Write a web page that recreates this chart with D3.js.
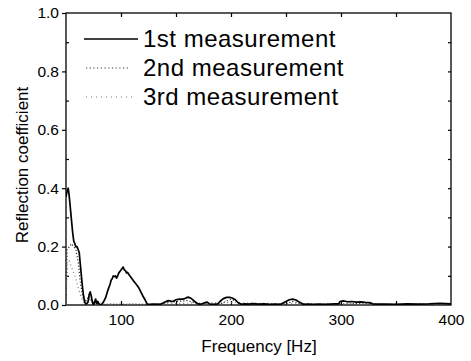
<!DOCTYPE html>
<html><head><meta charset="utf-8">
<script src="https://cdn.jsdelivr.net/npm/d3@7"></script>
<style>body{margin:0;background:#fff;} svg{display:block;font-family:"Liberation Sans",Arial,sans-serif;}</style>
</head><body>
<svg id="c" width="471" height="361"></svg>
<script>
// Data
const seriesNames = ["1st measurement", "2nd measurement", "3rd measurement"];
const freq1 = [50,51,52,53,54,55,56,57,58,59,60,61,62,63,64,65,66,67,68,69,70,71,72,73,74,75,76,77,78,79,80,81,82,84,86,88,90,91,92,93,94,95,96,97,98,99,100,101,102,103,104,105,106,107,108,110,112,114,116,118,120,122,124,126,130,135,137,140,143,147,150,153,156,158,161,164,167,170,172,175,178,181,184,188,190,193,196,199,201,204,207,210,213,216,220,225,230,235,240,245,247,250,253,256,259,262,265,267,270,275,280,285,290,295,298,299,302,306,310,314,318,322,326,329,332,340,350,360,370,380,390,395,400];
const r1    = [0.37,0.39,0.40,0.37,0.33,0.29,0.25,0.22,0.21,0.20,0.20,0.19,0.18,0.14,0.10,0.06,0.03,0.01,0.003,0.005,0.01,0.035,0.045,0.03,0.01,0.0,0.01,0.02,0.005,0.012,0.004,0.0,0.0,0.01,0.025,0.05,0.07,0.085,0.09,0.1,0.097,0.1,0.092,0.1,0.11,0.115,0.12,0.125,0.13,0.12,0.118,0.11,0.112,0.105,0.1,0.09,0.08,0.07,0.06,0.045,0.03,0.017,0.002,0.002,0.003,0.002,0.004,0.01,0.015,0.012,0.018,0.02,0.02,0.022,0.027,0.022,0.012,0.004,0.002,0.006,0.01,0.003,0.002,0.004,0.012,0.022,0.026,0.026,0.024,0.018,0.006,0.002,0.004,0.003,0.005,0.003,0.004,0.002,0.003,0.002,0.006,0.012,0.018,0.02,0.017,0.01,0.004,0.002,0.003,0.002,0.003,0.002,0.003,0.004,0.004,0.012,0.014,0.011,0.012,0.010,0.011,0.009,0.008,0.004,0.003,0.003,0.002,0.004,0.003,0.004,0.006,0.005,0.004];
const freq2 = [50,51,53,55,57,59,61,63,65,67,69,71,73,75,77,80,85,90,100,110,120,130,150,160,170,190,200,210,230,250,256,265,280,300,320,340,370,400];
const r2    = [0.0,0.19,0.2,0.21,0.2,0.19,0.15,0.08,0.03,0.01,0.02,0.03,0.015,0.005,0.01,0.003,0.002,0.003,0.002,0.003,0.002,0.002,0.012,0.015,0.005,0.003,0.02,0.004,0.002,0.003,0.012,0.003,0.002,0.003,0.006,0.002,0.003,0.002];
const freq3 = [50,51,53,55,57,59,61,63,65,67,69,71,74,78,85,100,130,160,200,250,300,350,400];
const r3    = [0.0,0.14,0.15,0.13,0.11,0.09,0.06,0.035,0.015,0.005,0.01,0.02,0.008,0.003,0.002,0.002,0.002,0.006,0.008,0.004,0.003,0.002,0.002];
const xTicks = [100,200,300,400];
const yTicks = [0.0,0.2,0.4,0.6,0.8,1.0];

const svg = d3.select("#c");
const L = 66, R = 451, T = 13, B = 305;
const x = d3.scaleLinear().domain([50,400]).range([L,R]);
const y = d3.scaleLinear().domain([0,1]).range([B,T]);

// frame
svg.append("rect").attr("x",L).attr("y",T).attr("width",R-L).attr("height",B-T)
  .attr("fill","none").attr("stroke","#000").attr("stroke-width",1.3);

// left axis: major outward
svg.append("g").attr("transform",`translate(${L},0)`)
  .call(d3.axisLeft(y).tickValues(yTicks).tickFormat(d3.format(".1f")).tickSize(4).tickPadding(3));
// left minor inward
svg.append("g").attr("transform",`translate(${L},0)`)
  .call(d3.axisRight(y).tickValues([0.1,0.3,0.5,0.7,0.9]).tickSize(3).tickFormat(""));
// right inward
svg.append("g").attr("transform",`translate(${R},0)`)
  .call(d3.axisLeft(y).tickValues(d3.range(1,10).map(d=>d/10)).tickSize(3).tickFormat(""));
// bottom
svg.append("g").attr("transform",`translate(0,${B})`)
  .call(d3.axisBottom(x).tickValues(xTicks).tickSize(0).tickPadding(9));
svg.append("g").attr("transform",`translate(0,${B})`)
  .call(d3.axisTop(x).tickValues([100,150,200,250,300,350]).tickSize(4).tickFormat(""));
// top inward
svg.append("g").attr("transform",`translate(0,${T})`)
  .call(d3.axisBottom(x).tickValues([100,150,200,250,300,350]).tickSize(4).tickFormat(""));

svg.selectAll(".domain").remove();
svg.selectAll(".tick line").attr("stroke","#000").attr("stroke-width",1.2);
svg.selectAll(".tick text").attr("font-size","15.5px").attr("fill","#000")
   .attr("font-family","'Liberation Sans',Arial,sans-serif");

// axis labels
svg.append("text").attr("x",259).attr("y",352).attr("text-anchor","middle")
  .attr("font-size","17px").text("Frequency [Hz]");
svg.append("text").attr("transform","translate(28,165) rotate(-90)").attr("text-anchor","middle")
  .attr("font-size","17px").text("Reflection coefficient");

const line = d3.line().x(d=>x(d[0])).y(d=>y(d[1]));
svg.append("clipPath").attr("id","cp").append("rect")
  .attr("x",L).attr("y",T).attr("width",R-L).attr("height",B-T);
const plotG = svg.append("g").attr("clip-path","url(#cp)");
plotG.append("path").datum(d3.zip(freq3,r3)).attr("d",line).attr("fill","none")
  .attr("stroke","#777").attr("stroke-width",1.2).attr("stroke-dasharray","1,3");
plotG.append("path").datum(d3.zip(freq2,r2)).attr("d",line).attr("fill","none")
  .attr("stroke","#333").attr("stroke-width",1.2).attr("stroke-dasharray","1.2,2");
plotG.append("path").datum(d3.zip(freq1,r1)).attr("d",line).attr("fill","none")
  .attr("stroke","#000").attr("stroke-width",1.7).attr("stroke-linejoin","round");

// legend
const leg = [
  {name:seriesNames[0], y:39, x1:84, x2:138, stroke:"#000", w:1.5, dash:null},
  {name:seriesNames[1], y:68, x1:86, x2:130, stroke:"#333", w:1.2, dash:"1.2,2.5"},
  {name:seriesNames[2], y:97, x1:86, x2:136, stroke:"#777", w:1.2, dash:"1,4"}
];
leg.forEach(d=>{
  svg.append("line").attr("x1",d.x1).attr("x2",d.x2).attr("y1",d.y).attr("y2",d.y)
    .attr("stroke",d.stroke).attr("stroke-width",d.w).attr("stroke-dasharray",d.dash);
  svg.append("text").attr("x",143).attr("y",d.y+8).attr("font-size","24px")
    .attr("letter-spacing","0.5px").text(d.name);
});
</script>
</body></html>
